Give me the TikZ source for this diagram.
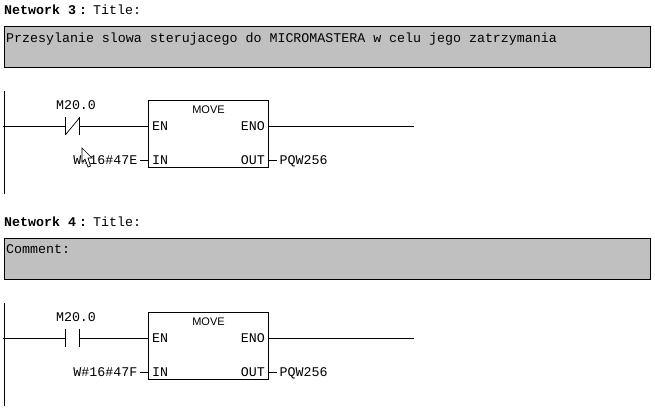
\documentclass[tikz,border=0pt]{standalone}
\usepackage{fontspec}
\setmainfont{Liberation Mono}
\newfontfamily\movefont{Liberation Sans}
\usetikzlibrary{positioning}
\definecolor{commentgray}{RGB}{192,192,192}
\tikzset{
  lbl/.style={inner sep=0pt,text height=9pt,text depth=1pt,font=\fontsize{13.3}{14}\selectfont},
  pin/.style={lbl,inner xsep=2.5pt},
  heading/.style={lbl,anchor=west,font=\fontsize{13.3}{14}\selectfont\bfseries},
  comment/.style={draw,fill=commentgray,anchor=north west,minimum width=646pt,minimum height=40.5pt,inner sep=0pt,outer sep=0pt,line width=1pt},
  movebox/.style={draw,anchor=north west,minimum width=120pt,minimum height=67pt,inner sep=0pt,outer sep=0pt,line width=1pt},
  movelbl/.style={inner sep=0pt,font=\fontsize{11}{12}\movefont},
  contact/.style={inner sep=0pt,minimum width=14pt,minimum height=17pt},
  wire/.style={line width=1pt},
}
\begin{document}
\begin{tikzpicture}[x=1pt,y=-1pt]
      \useasboundingbox (0,0) rectangle (655,412);

      % Network 3
      \node[heading] (h3) at (4,10.5) {Network 3};
      \node[heading] (d3) at (79,10.5) {:};
      \node[lbl,anchor=west] (t3) at (93,10.5) {Title:};
      \node[comment] (k3) at (4,26.5) {};
      \node[lbl,anchor=west] (kt3) at (6,38) {Przesylanie slowa sterujacego do MICROMASTERA w celu jego zatrzymania};
      \coordinate (ra3) at (4.5,91);
      \coordinate (rb3) at (4.5,194);
      \coordinate (s3) at (3,126);
      \coordinate (e3) at (413.5,126);
      \node[contact] (c3) at (72.7,126) {};
      \node[lbl] (m3) at (76,105) {M20.0};
      \node[movebox] (b3) at (148.5,100.5) {};
      \node[movelbl] (n3) at (208.5,110) {MOVE};
      \node[lbl,anchor=west] (en3) at (152,126.5) {EN};
      \node[lbl,anchor=east] (eo3) at (265,126.5) {ENO};
      \node[lbl,anchor=west] (in3) at (152,160) {IN};
      \node[lbl,anchor=east] (ou3) at (265,160) {OUT};
      \node[pin,anchor=east] (w3) at (140,160) {W\#16\#47E};
      \node[pin,anchor=west] (p3) at (277,160) {PQW256};

      \draw[wire] (ra3) -- (rb3);
      \draw[wire] (s3) -- (c3.west);
      \draw[wire] (c3.east) -- (c3 -| b3.west);
      \draw[wire] (c3.north west) -- (c3.south west);
      \draw[wire] (c3.north east) -- (c3.south east);
      \draw[line width=.7pt] (c3.south west) -- (c3.north east);
      \draw[wire] (b3.east |- e3) -- (e3);
      \draw[wire] (w3.east) -- (b3.west |- w3);
      \draw[wire] (b3.east |- p3) -- (p3.west);

      % mouse pointer
      \draw[fill=white,line width=.7pt] (82,148) -- (82,162) -- (85,159) -- (88,167) -- (90.5,166) -- (88,158) -- (92,158) -- cycle;

      % Network 4
      \node[heading] (h4) at (4,222) {Network 4};
      \node[heading] (d4) at (79,222) {:};
      \node[lbl,anchor=west] (t4) at (93,222) {Title:};
      \node[comment] (k4) at (4,238.5) {};
      \node[lbl,anchor=west] (kt4) at (6,249) {Comment:};
      \coordinate (ra4) at (4.5,303);
      \coordinate (rb4) at (4.5,406);
      \coordinate (s4) at (3,338);
      \coordinate (e4) at (413.5,338);
      \node[contact] (c4) at (72.7,338) {};
      \node[lbl] (m4) at (76,317) {M20.0};
      \node[movebox] (b4) at (148.5,312.5) {};
      \node[movelbl] (n4) at (208.5,322) {MOVE};
      \node[lbl,anchor=west] (en4) at (152,338.5) {EN};
      \node[lbl,anchor=east] (eo4) at (265,338.5) {ENO};
      \node[lbl,anchor=west] (in4) at (152,372) {IN};
      \node[lbl,anchor=east] (ou4) at (265,372) {OUT};
      \node[pin,anchor=east] (w4) at (140,372) {W\#16\#47F};
      \node[pin,anchor=west] (p4) at (277,372) {PQW256};

      \draw[wire] (ra4) -- (rb4);
      \draw[wire] (s4) -- (c4.west);
      \draw[wire] (c4.east) -- (c4 -| b4.west);
      \draw[wire] (c4.north west) -- (c4.south west);
      \draw[wire] (c4.north east) -- (c4.south east);
      \draw[wire] (b4.east |- e4) -- (e4);
      \draw[wire] (w4.east) -- (b4.west |- w4);
      \draw[wire] (b4.east |- p4) -- (p4.west);
    \end{tikzpicture}
\end{document}
